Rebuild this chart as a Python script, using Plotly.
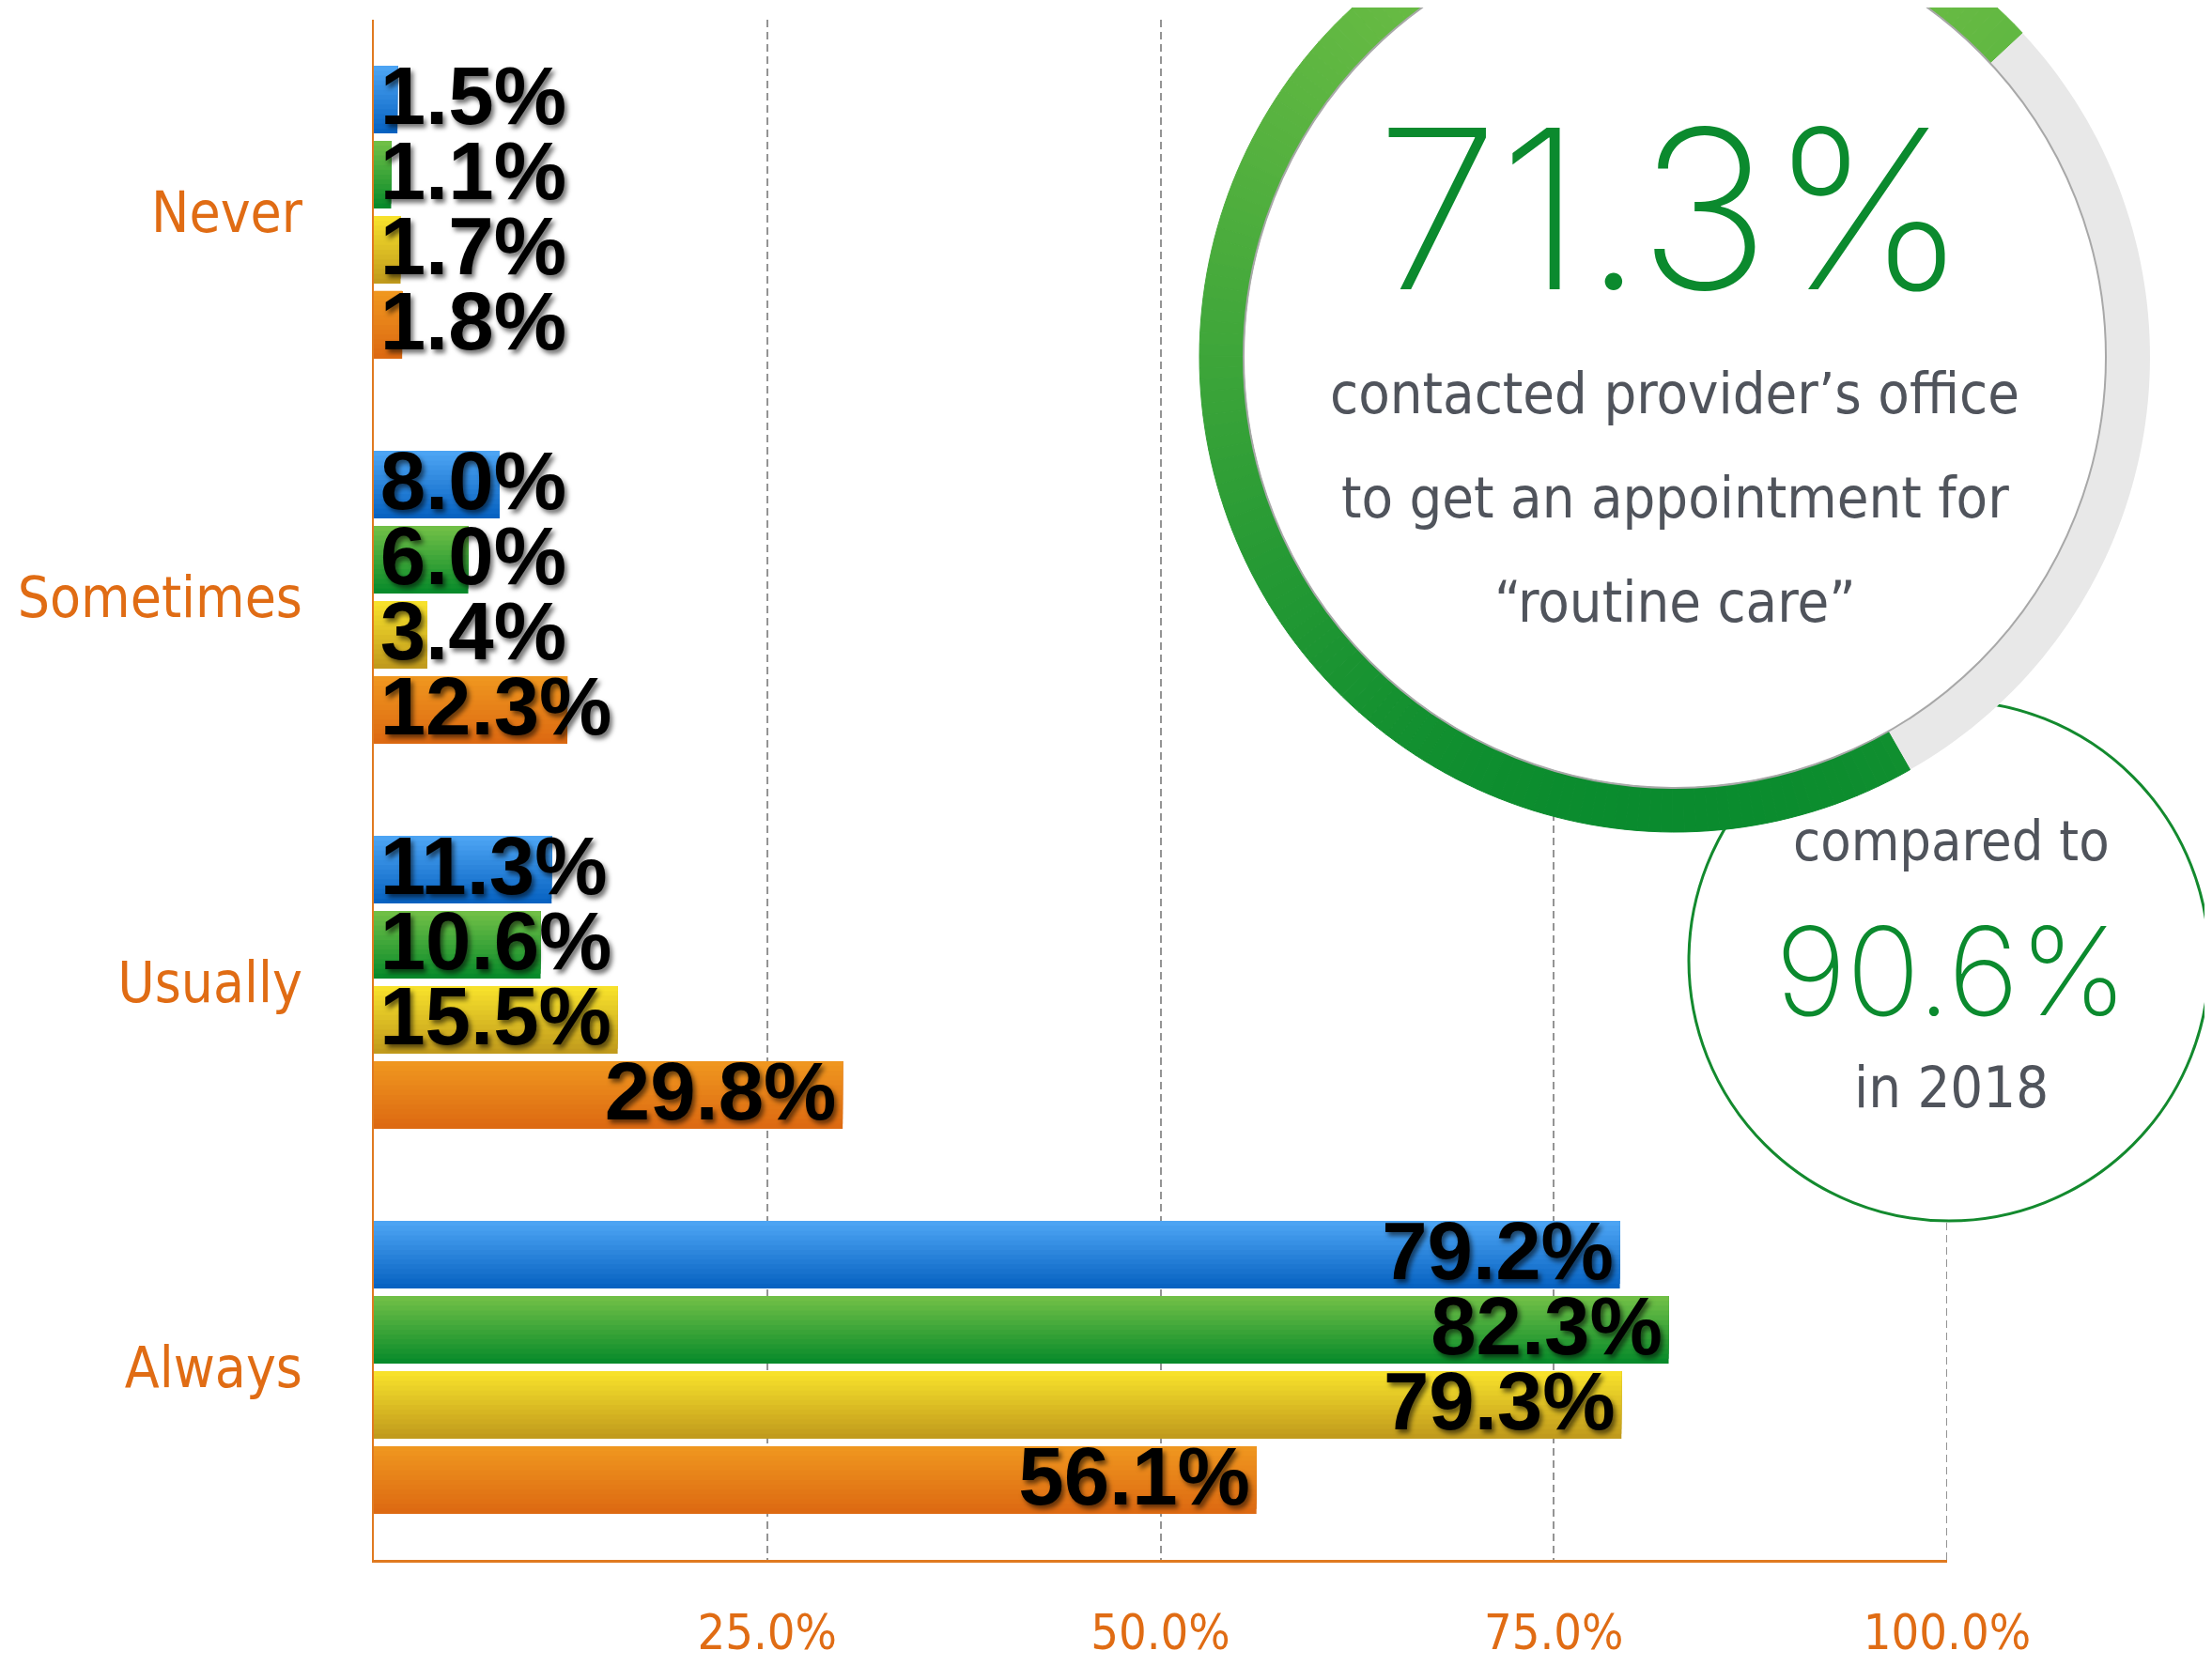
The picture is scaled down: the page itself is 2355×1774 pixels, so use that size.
import numpy as np
import plotly.graph_objects as go

# ---------------- data ----------------
categories = ["Never", "Sometimes", "Usually", "Always"]
series_names = ["Blue", "Green", "Yellow", "Orange"]
blue_vals = [1.5, 8.0, 11.3, 79.2]
green_vals = [1.1, 6.0, 10.6, 82.3]
yellow_vals = [1.7, 3.4, 15.5, 79.3]
orange_vals = [1.8, 12.3, 29.8, 56.1]
x_tick_vals = [25, 50, 75, 100]
x_tick_labels = ["25.0%", "50.0%", "75.0%", "100.0%"]
headline_value = 71.3
headline_lines = ["contacted provider\u2019s office", "to get an appointment for", "\u201croutine care\u201d"]
comparison_value = 90.6
comparison_lines = ["compared to", "in 2018"]

# ---------------- styling / geometry ----------------
SCREEN_W, SCREEN_H = 2355, 1774
OFF = 8  # default page body margin
W, H = SCREEN_W - OFF, SCREEN_H - OFF
PLOT_LEFT, PLOT_TOP = 398, 21          # screen pixels
PW, PH = 1675, 1640
ML, MT = PLOT_LEFT - OFF, PLOT_TOP - OFF
MR, MB = W - ML - PW, H - MT - PH

ORANGE_TXT = "#e06c14"
GRAY_TXT = "#50545c"
GREEN_TXT = "#0b8a2e"
COND = "DejaVu Sans Condensed, Liberation Sans Narrow, Roboto Condensed, sans-serif"
THIN = "Inter, Lato, Roboto, sans-serif"
GRID_COLOR = "#949494"
GRID_DASH = "8px,5px"

series_colors = [
    ("#4fa6f5", "#0561c0"),
    ("#74c147", "#05892a"),
    ("#f9e42c", "#bf981c"),
    ("#f0981f", "#dc6812"),
]

BARGAP = 0.22
SLOT = (1 - BARGAP) / 4
THICK = SLOT * 0.9
NSTRIP = 14
FIT_THRESHOLD = 15.0
LABEL_PAD = 0.4
LABEL_DROP = 0.01


def hex2rgb(h):
    h = h.lstrip("#")
    return tuple(int(h[i:i + 2], 16) for i in (0, 2, 4))


def lerp(c1, c2, t):
    a, b = hex2rgb(c1), hex2rgb(c2)
    r = [round(a[i] + (b[i] - a[i]) * t) for i in range(3)]
    return f"rgb({r[0]},{r[1]},{r[2]})"


def px(x):
    return (x - PLOT_LEFT) / PW


def py(y):
    return (PLOT_TOP + PH - y) / PH


fig = go.Figure()

all_vals = [blue_vals, green_vals, yellow_vals, orange_vals]
cat_idx = list(range(len(categories)))

for j, vals in enumerate(all_vals):
    ctop, cbot = series_colors[j]
    offset = (j - 1.5) * SLOT
    tops = [i + offset - THICK / 2 for i in cat_idx]
    for k in range(NSTRIP):
        frac = (NSTRIP - k) / NSTRIP
        color = lerp(ctop, cbot, (NSTRIP - k - 0.5) / NSTRIP)
        fig.add_trace(go.Bar(
            x=vals, y=[t + frac * THICK / 2 for t in tops], width=frac * THICK,
            orientation="h", marker=dict(color=color, line=dict(width=0)),
            name=series_names[j], showlegend=False,
            hoverinfo="skip" if k else "x+name",
        ))

for j, vals in enumerate(all_vals):
    offset = (j - 1.5) * SLOT
    xs = [v - LABEL_PAD if v >= FIT_THRESHOLD else LABEL_PAD for v in vals]
    pos = ["middle left" if v >= FIT_THRESHOLD else "middle right" for v in vals]
    fig.add_trace(go.Scatter(
        x=xs, y=[i + offset + LABEL_DROP for i in cat_idx], mode="text",
        text=[f"{v:.1f}%" for v in vals], textposition=pos,
        textfont=dict(family="Liberation Sans, Arial, sans-serif", size=87, color="black",
                      weight=700, shadow="3px 4px 5px rgba(0,0,0,0.55)"),
        cliponaxis=False, showlegend=False, hoverinfo="skip",
    ))

# ---------------- decorations ----------------
shapes = []
# 100% gridline (at the plot edge)
shapes.append(dict(type="line", xref="x", yref="paper", x0=100, x1=100, y0=0, y1=1,
                   line=dict(color=GRID_COLOR, width=2, dash=GRID_DASH), layer="below"))

# small comparison circle
SCX, SCY, SR = 2075, 1023, 277
shapes.append(dict(type="circle", xref="paper", yref="paper",
                   x0=px(SCX - SR), x1=px(SCX + SR), y0=py(SCY + SR), y1=py(SCY - SR),
                   fillcolor="white", line=dict(color="#138a2e", width=3), layer="above"))

# big ring
CX, CY, RO, RI = 1783, 380, 506, 459
shapes.append(dict(type="circle", xref="paper", yref="paper",
                   x0=px(CX - RO), x1=px(CX + RO), y0=py(CY + RO), y1=py(CY - RO),
                   fillcolor="white", line=dict(width=0), layer="above"))

START = 43.0
span = 360.0 * headline_value / 100.0


def pt(r, a_deg):
    a = np.deg2rad(a_deg)
    return CX + r * np.cos(a), CY - r * np.sin(a)


def poly(points):
    return "M " + " L ".join(f"{px(x):.5f},{py(y):.5f}" for x, y in points) + " Z"


g_angles = np.linspace(START + span - 360.0, START, 80)
gpts = [pt(RO, a) for a in g_angles] + [pt(RI, a) for a in g_angles[::-1]]
shapes.append(dict(type="path", xref="paper", yref="paper", path=poly(gpts),
                   fillcolor="#e8e8e8", line=dict(width=0), layer="above"))

NSEG = 180
edges = np.linspace(START, START + span, NSEG + 1)
for a0, a1 in zip(edges[:-1], edges[1:]):
    pts = [pt(RO, a0), pt(RO, a1), pt(RI, a1), pt(RI, a0)]
    ymid = np.mean([p[1] for p in pts])
    t = min(max((ymid - (CY - RO)) / (2 * RO), 0), 1)
    col = lerp("#74c146", "#078a2d", t)
    shapes.append(dict(type="path", xref="paper", yref="paper", path=poly(pts),
                       fillcolor=col, line=dict(color=col, width=1), layer="above"))

shapes.append(dict(type="circle", xref="paper", yref="paper",
                   x0=px(CX - RI), x1=px(CX + RI), y0=py(CY + RI), y1=py(CY - RI),
                   line=dict(color="#a8a8a8", width=2), layer="above"))

annotations = []


def ann(text, x, y, size, color, family, weight=400):
    annotations.append(dict(text=text, xref="paper", yref="paper", x=px(x), y=py(y),
                            xanchor="center", yanchor="middle", showarrow=False,
                            font=dict(family=family, size=size, color=color, weight=weight)))


ann(f"{headline_value:.1f}%", 1780, 222, 236, GREEN_TXT, THIN, 200)
for line, yy in zip(headline_lines, [418, 529, 640]):
    ann(line, 1783, yy, 61, GRAY_TXT, COND)
ann(comparison_lines[0], 2077, 896, 59, GRAY_TXT, COND)
ann(f"{comparison_value:.1f}%", 2077, 1033, 130, GREEN_TXT, THIN, 200)
ann(comparison_lines[1], 2077, 1157, 61, GRAY_TXT, COND)

fig.update_layout(
    width=W, height=H,
    margin=dict(l=ML, r=MR, t=MT, b=MB, pad=0, autoexpand=False),
    barmode="overlay",
    plot_bgcolor="white", paper_bgcolor="white",
    showlegend=False,
    shapes=shapes, annotations=annotations,
    xaxis=dict(range=[0, 100], tickvals=x_tick_vals, ticktext=x_tick_labels,
               tickfont=dict(family=COND, size=52, color=ORANGE_TXT),
               showgrid=True, gridcolor=GRID_COLOR, griddash=GRID_DASH, gridwidth=2,
               showline=True, linecolor="#e07a20", linewidth=3, zeroline=False,
               ticks="", ticklabelstandoff=30, automargin=False),
    yaxis=dict(range=[3.5, -0.5], tickvals=cat_idx, ticktext=categories,
               tickfont=dict(family=COND, size=60, color=ORANGE_TXT),
               showgrid=False, showline=True, linecolor="#e07a20", linewidth=2,
               zeroline=False, ticks="", ticklabelstandoff=62, automargin=False),
)

fig.write_html("out.html")
